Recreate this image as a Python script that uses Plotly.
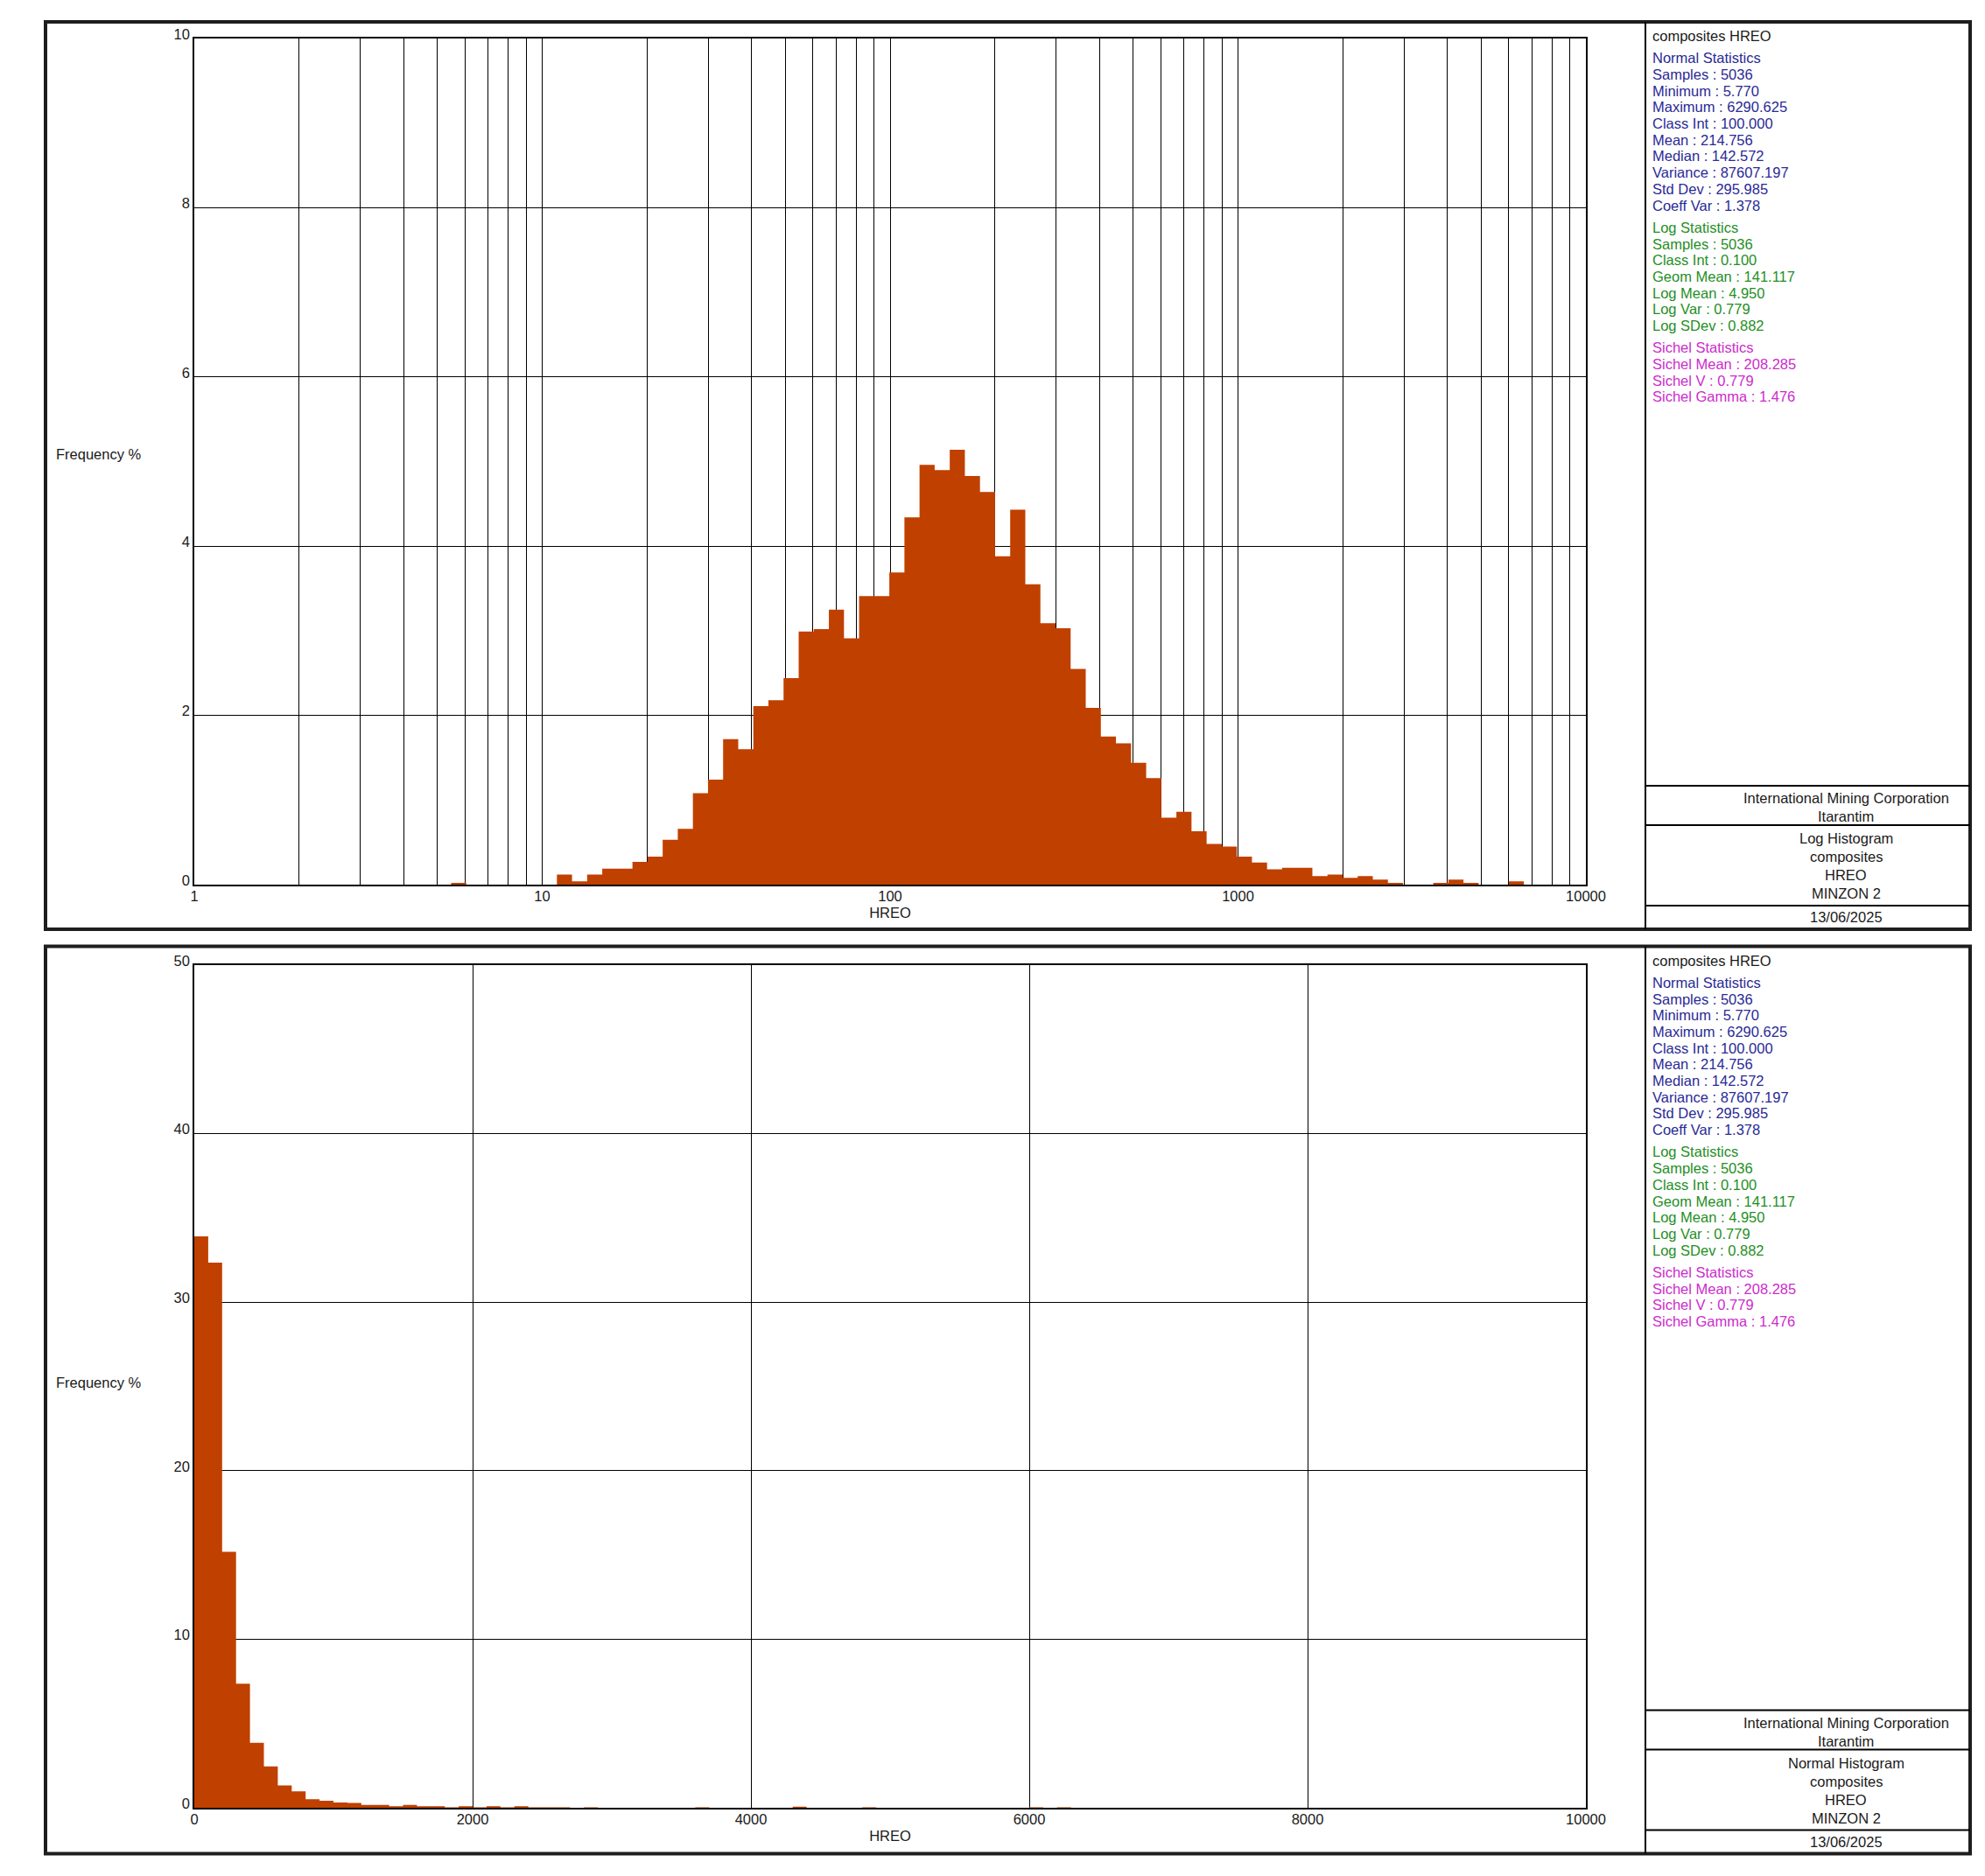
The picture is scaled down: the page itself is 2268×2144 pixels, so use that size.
import numpy as np
import plotly.graph_objects as go

W, H = 2268, 2144

# log histogram: natural-log classes of 0.1, first class starts at ln = 1.7
log_class_start = 1.7
log_class_int = 0.1
log_freq = [0.02, 0, 0, 0, 0, 0, 0, 0.12, 0.04, 0.12,
            0.19, 0.19, 0.27, 0.33, 0.53, 0.66, 1.08, 1.24, 1.72, 1.60,
            2.11, 2.18, 2.44, 2.99, 3.02, 3.25, 2.91, 3.41, 3.41, 3.69,
            4.34, 4.96, 4.90, 5.14, 4.83, 4.64, 3.88, 4.43, 3.55, 3.09,
            3.03, 2.55, 2.09, 1.75, 1.67, 1.44, 1.26, 0.79, 0.86, 0.63,
            0.48, 0.45, 0.33, 0.26, 0.18, 0.20, 0.20, 0.10, 0.12, 0.08,
            0.10, 0.06, 0.02, 0, 0, 0.02, 0.06, 0.02, 0, 0,
            0.04]

# normal histogram: classes of 100 starting at 0
norm_class_int = 100.0
norm_freq = [33.90, 32.35, 15.19, 7.36, 3.85, 2.45, 1.32, 0.97, 0.50, 0.42,
             0.31, 0.28, 0.17, 0.17, 0.09, 0.17, 0.09, 0.09, 0.02, 0.09,
             0.03, 0.09, 0.03, 0.09, 0.03, 0.03, 0.03, 0, 0.03, 0,
             0, 0, 0, 0, 0, 0, 0.02, 0, 0, 0,
             0, 0, 0, 0.06, 0, 0, 0, 0, 0.02, 0,
             0, 0, 0, 0, 0, 0, 0, 0, 0, 0,
             0.02, 0, 0.02]

log_ticks = [1, 10, 100, 1000, 10000]
log_minor = [m * 10 ** d for d in range(4) for m in range(2, 10)]
norm_ticks = [0, 2000, 4000, 6000, 8000, 10000]

header = "composites HREO"
normal_stats = ["Normal Statistics", "Samples : 5036", "Minimum : 5.770", "Maximum : 6290.625",
                "Class Int : 100.000", "Mean : 214.756", "Median : 142.572",
                "Variance : 87607.197", "Std Dev : 295.985", "Coeff Var : 1.378"]
log_stats = ["Log Statistics", "Samples : 5036", "Class Int : 0.100", "Geom Mean : 141.117",
             "Log Mean : 4.950", "Log Var : 0.779", "Log SDev : 0.882"]
sichel_stats = ["Sichel Statistics", "Sichel Mean : 208.285", "Sichel V : 0.779",
                "Sichel Gamma : 1.476"]
company = ["International Mining Corporation", "Itarantim"]
log_title = ["Log Histogram", "composites", "HREO", "MINZON 2"]
norm_title = ["Normal Histogram", "composites", "HREO", "MINZON 2"]
date = "13/06/2025"

BAR = "#C04000"
FONT = "Liberation Sans, Arial, sans-serif"
FS = 16.5
TXT = "#1a1a1a"
FRAME = "#1e1e1e"


def px(x):
    return x / W


def py(y):
    return 1 - y / H


log_edges = np.exp(log_class_start + log_class_int * np.arange(len(log_freq) + 1))
norm_edges = norm_class_int * np.arange(len(norm_freq) + 1)

fig = go.Figure()
fig.add_trace(go.Scatter(x=log_edges, y=log_freq + [log_freq[-1]], mode="lines",
                         line=dict(width=0, shape="hv"), fill="tozeroy", fillcolor=BAR,
                         xaxis="x", yaxis="y", hoverinfo="skip", showlegend=False))
fig.add_trace(go.Scatter(x=norm_edges, y=norm_freq + [norm_freq[-1]], mode="lines",
                         line=dict(width=0, shape="hv"), fill="tozeroy", fillcolor=BAR,
                         xaxis="x2", yaxis="y2", hoverinfo="skip", showlegend=False))

axis_common = dict(showgrid=True, gridcolor="black", gridwidth=1.3, showline=True,
                   linecolor="black", linewidth=1.5, mirror=True, zeroline=False,
                   ticks="", automargin=False,
                   tickfont=dict(family=FONT, size=FS, color=TXT))
xtitle = dict(text="HREO", standoff=6, font=dict(family=FONT, size=FS, color=TXT))

fig.update_layout(
    width=W, height=H, margin=dict(l=0, r=0, t=0, b=0, pad=0, autoexpand=False),
    paper_bgcolor="white", plot_bgcolor="white", showlegend=False,
    xaxis=dict(axis_common, type="log", domain=[px(222), px(1812)], anchor="y",
               range=[0, 4], tickvals=log_ticks, ticktext=[str(t) for t in log_ticks],
               ticklabelstandoff=-3,
               minor=dict(tickmode="array", tickvals=log_minor, showgrid=True,
                          gridcolor="black", gridwidth=1.3, ticks=""),
               title=xtitle),
    yaxis=dict(axis_common, domain=[py(1011), py(44)], anchor="x", range=[0, 10],
               dtick=2, ticklabelshift=-5, ticklabelstandoff=0),
    xaxis2=dict(axis_common, domain=[px(222), px(1812)], anchor="y2",
                range=[0, 10000], tickvals=norm_ticks, ticktext=[str(t) for t in norm_ticks],
                ticklabelstandoff=-3, title=xtitle),
    yaxis2=dict(axis_common, domain=[py(2066), py(1103)], anchor="x2", range=[0, 50],
                dtick=10, ticklabelshift=-5, ticklabelstandoff=0),
)

shapes = []
annotations = []


def text(x, y, s, color=TXT, anchor="left"):
    annotations.append(dict(x=px(x), y=py(y), xref="paper", yref="paper", text=s,
                            showarrow=False, xanchor=anchor, yanchor="middle",
                            font=dict(family=FONT, size=FS, color=color)))


def line(x0, y0, x1, y1, width=2, color="black"):
    shapes.append(dict(type="line", xref="paper", yref="paper", x0=px(x0), y0=py(y0),
                       x1=px(x1), y1=py(y1), line=dict(color=color, width=width)))


def panel(dy, hist_title, ylabel_y):
    # outer frame and side panel
    shapes.append(dict(type="rect", xref="paper", yref="paper", x0=px(52), y0=py(25 + dy),
                       x1=px(2251), y1=py(1062 + dy), line=dict(color=FRAME, width=4)))
    line(1880, 25 + dy, 1880, 1062 + dy)
    for yy in (898, 943, 1035):
        line(1880, yy + dy, 2251, yy + dy)

    text(62, ylabel_y, "Frequency %")

    y = 41 + dy
    text(1886, y, header)
    for group, color in ((normal_stats, "#2a2a96"), (log_stats, "#1f8f1f"),
                         (sichel_stats, "#cc2ccc")):
        y += 25.3
        for i, s in enumerate(group):
            if i:
                y += 18.7
            text(1886, y, s, color)

    cx = 2109
    for s, yy in zip(company, (912, 933)):
        text(cx, yy + dy, s, anchor="center")
    for s, yy in zip(hist_title, (958, 979, 1000, 1021.5)):
        text(cx, yy + dy, s, anchor="center")
    text(cx, 1048 + dy, date, anchor="center")


panel(0, log_title, 519)
panel(1056.5, norm_title, 1580)

fig.update_layout(shapes=shapes, annotations=annotations)
fig.write_html("out.html", config={"displayModeBar": False},
               post_script="document.body.style.margin='0px';")
